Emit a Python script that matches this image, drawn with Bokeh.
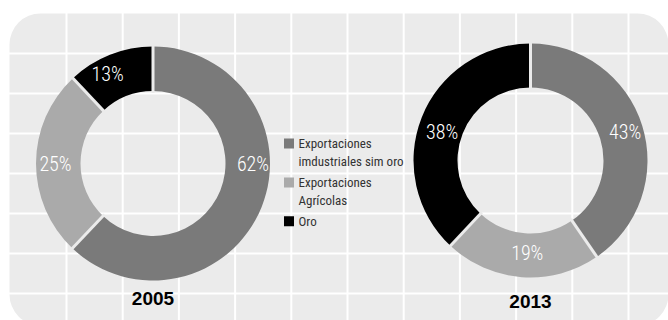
import numpy as np
from bokeh.plotting import figure
from bokeh.models import Range1d
from bokeh.core.properties import value
from bokeh.embed import file_html
from bokeh.resources import INLINE

# ---------------- data ----------------
categories = ["Exportaciones\nimdustriales sim oro", "Exportaciones\nAgrícolas", "Oro"]
years = ["2005", "2013"]
shares_2005 = [62.1, 25.9, 12.0]      # wedge sizes as drawn
shares_2013 = [40.4, 21.6, 38.0]
labels_2005 = ["62%", "25%", "13%"]
labels_2013 = ["43%", "19%", "38%"]
colors = ["#7a7a7a", "#aaaaaa", "#000000"]

# ---------------- layout ----------------
W, H = 668, 320
def Y(ypx):
    return H - ypx

LIGHT = value("'Roboto Condensed Light', 'Roboto Condensed', 'Liberation Sans Narrow', sans-serif")
NARROW = value("'Roboto Condensed', 'Liberation Sans Narrow', 'Arial Narrow', sans-serif")
BOLD = value("'Liberation Sans', Arial, sans-serif")

p = figure(width=W, height=H, x_range=Range1d(0, W), y_range=Range1d(0, H),
           output_backend="svg", toolbar_location=None, min_border=0,
           x_axis_type=None, y_axis_type=None)
p.grid.visible = False
p.outline_line_color = None
p.background_fill_color = "white"
p.border_fill_color = "white"

# panel
p.rect(x=[(9 + 668) / 2], y=[Y((13 + 325) / 2)], width=[668 - 9], height=[325 - 13],
       fill_color="#ebebeb", line_color=None, border_radius=31)

# white grid lines (invisible outside the panel)
gx = [66 + 56.2 * k for k in range(11)]
gy = [53 + 40 * k for k in range(7)]
p.segment(x0=gx, y0=[0] * len(gx), x1=gx, y1=[H] * len(gx), line_color="white", line_width=2)
p.segment(x0=[0] * len(gy), y0=[Y(v) for v in gy], x1=[W] * len(gy), y1=[Y(v) for v in gy],
          line_color="white", line_width=2)

charts = [
    dict(year=years[0], shares=shares_2005, labels=labels_2005, cx=152.5, cy=163,
         r_in=72.5, r_out=117, label_deg=[0, 180, 117], label_r=[100, 97.5, 100], title_y=298),
    dict(year=years[1], shares=shares_2013, labels=labels_2013, cx=530, cy=160,
         r_in=73, r_out=117, label_deg=[17, 268, 162], label_r=[99, 92.5, 93], title_y=301),
]

for ch in charts:
    s = np.array(ch["shares"], dtype=float)
    frac = s / s.sum()
    cum = np.concatenate([[0], np.cumsum(frac)])
    bounds = np.pi / 2 - 2 * np.pi * cum
    cx, cy = ch["cx"], Y(ch["cy"])
    p.annular_wedge(x=[cx] * 3, y=[cy] * 3, inner_radius=ch["r_in"], outer_radius=ch["r_out"],
                    start_angle=list(bounds[:-1]), end_angle=list(bounds[1:]), direction="clock",
                    fill_color=colors, line_color=None)
    b = bounds[:-1]
    p.segment(x0=list(cx + (ch["r_in"] - 2) * np.cos(b)), y0=list(cy + (ch["r_in"] - 2) * np.sin(b)),
              x1=list(cx + (ch["r_out"] + 2) * np.cos(b)), y1=list(cy + (ch["r_out"] + 2) * np.sin(b)),
              line_color="#ebebeb", line_width=3)
    a = np.deg2rad(ch["label_deg"])
    r = np.array(ch["label_r"])
    p.text(x=list(cx + r * np.cos(a)), y=list(cy + r * np.sin(a)), text=ch["labels"],
           text_color="white", text_font=LIGHT, text_font_size="20px",
           text_align="center", text_baseline="middle")
    p.text(x=[ch["cx"]], y=[Y(ch["title_y"])], text=[ch["year"]], text_color="black",
           text_font=BOLD, text_font_style="bold", text_font_size="19px",
           text_align="center", text_baseline="middle")

# legend
ly = 143
for cat, col in zip(categories, colors):
    lines = cat.split("\n")
    p.rect(x=[288.5], y=[Y(ly)], width=10, height=10, width_units="screen", height_units="screen",
           fill_color=col, line_color=None)
    p.text(x=[298] * len(lines), y=[Y(ly + 17.8 * i) for i in range(len(lines))], text=lines,
           text_color="#333333", text_font=NARROW, text_font_size="13px",
           text_align="left", text_baseline="middle")
    ly += 17.8 * len(lines) + 3.3

open("out.html", "w").write(file_html(p, INLINE))
